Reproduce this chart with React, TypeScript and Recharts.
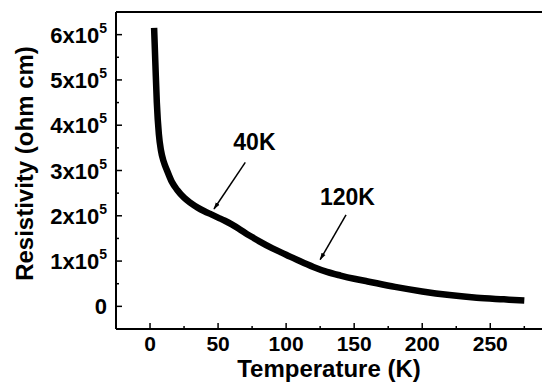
import React from "react";
import { LineChart, Line, XAxis, YAxis, ReferenceLine, ReferenceDot } from "recharts";

// temperature (K) and resistivity (ohm cm)
const temperature = [3, 4, 5, 6.5, 8, 10, 12.5, 16, 20, 25, 30, 35, 40, 45, 50, 55, 60, 65, 70, 75, 80, 90, 100, 110, 120, 130, 140, 150, 160, 180, 200, 220, 240, 260, 275];
const resistivity = [
  615000, 530000, 450000, 380000, 345000, 320000, 300000, 275000, 257000, 240000, 228000, 218000, 210000, 203000, 196000,
  189000, 181000, 172000, 162000, 153000, 144000, 128000, 114000, 100000, 87000, 76000, 68000, 61000, 55000, 43000, 33000,
  25000, 19000, 15500, 13000,
];

const xTicks = [-25, 0, 25, 50, 75, 100, 125, 150, 175, 200, 225, 250, 275];
const yTicks = [0, 50000, 100000, 150000, 200000, 250000, 300000, 350000, 400000, 450000, 500000, 550000, 600000];

// annotation labels and arrows (data coordinates)
const annotationLabels = ["40K", "120K"];
const labelT = [76.7, 145];
const labelR = [363000, 242000];
const arrowFromT = [70, 144];
const arrowFromR = [318000, 202000];
const arrowToT = [47, 125];
const arrowToR = [215000, 103000];

const FONT = "'Liberation Sans', Arial, sans-serif";

const data = temperature.map((t, i) => ({ t, r: resistivity[i] }));

const XTick = (props: any) => {
  const { x, y, payload } = props;
  const v = payload.value;
  const major = v % 50 === 0;
  return (
    <g>
      <line x1={x} x2={x} y1={y} y2={y - (major ? 6 : 3)} stroke="#000" strokeWidth={1.5} />
      {major && (
        <text x={x} y={y + 22} textAnchor="middle" fontFamily={FONT} fontWeight="bold" fontSize={21} fill="#000">
          {v}
        </text>
      )}
    </g>
  );
};

const YTick = (props: any) => {
  const { x, y, payload } = props;
  const v = payload.value;
  const major = v % 100000 === 0;
  return (
    <g>
      <line x1={x} x2={x + (major ? 6 : 3)} y1={y} y2={y} stroke="#000" strokeWidth={1.5} />
      {major && (
        <text x={x - 9} y={y + 8} textAnchor="end" fontFamily={FONT} fontWeight="bold" fontSize={22} fill="#000">
          {v === 0 ? (
            "0"
          ) : (
            <>
              {v / 100000}x10
              <tspan dy={-10} fontSize={14}>5</tspan>
            </>
          )}
        </text>
      )}
    </g>
  );
};

export default function App() {
  return (
    <div style={{ position: "absolute", left: 0, top: 0, width: 542, height: 385, background: "#fff", overflow: "hidden" }}>
      <LineChart width={542} height={385} data={data} margin={{ top: 12, right: 0, bottom: 0, left: 0 }}>
        <defs>
          <marker id="arrowHead" viewBox="0 0 10 10" refX="9" refY="5" markerWidth="5" markerHeight="5" orient="auto">
            <path d="M0,2 L10,5 L0,8 z" fill="#000" />
          </marker>
        </defs>
        <XAxis
          dataKey="t"
          type="number"
          domain={[-25, 288]}
          allowDataOverflow
          ticks={xTicks}
          interval={0}
          height={56}
          tickSize={0}
          tickMargin={0}
          tickLine={false}
          axisLine={{ stroke: "#000", strokeWidth: 2 }}
          tick={<XTick />}
          label={{
            content: (p: any) => (
              <text
                x={p.viewBox.x + p.viewBox.width / 2}
                y={p.viewBox.y + 48}
                textAnchor="middle"
                fontFamily={FONT}
                fontWeight="bold"
                fontSize={24}
                fill="#000"
              >
                Temperature (K)
              </text>
            ),
          }}
        />
        <YAxis
          type="number"
          domain={[-50000, 650000]}
          allowDataOverflow
          ticks={yTicks}
          interval={0}
          width={116}
          tickSize={0}
          tickMargin={0}
          tickLine={false}
          axisLine={{ stroke: "#000", strokeWidth: 2 }}
          tick={<YTick />}
          label={{
            content: (p: any) => {
              const cx = p.viewBox.x + 33;
              const cy = p.viewBox.y + p.viewBox.height / 2 - 7;
              return (
                <text
                  x={cx}
                  y={cy}
                  transform={`rotate(-90, ${cx}, ${cy})`}
                  textAnchor="middle"
                  fontFamily={FONT}
                  fontWeight="bold"
                  fontSize={24}
                  fill="#000"
                >
                  Resistivity (ohm cm)
                </text>
              );
            },
          }}
        />
        <ReferenceLine y={650000} stroke="#000" strokeWidth={2} />
        <Line
          type="monotone"
          dataKey="r"
          stroke="#000"
          strokeWidth={6.5}
          dot={false}
          isAnimationActive={false}
        />
        {annotationLabels.map((lbl, i) => (
          <ReferenceLine
            key={"a" + i}
            segment={[
              { x: arrowFromT[i], y: arrowFromR[i] },
              { x: arrowToT[i], y: arrowToR[i] },
            ]}
            shape={(p: any) => (
              <line x1={p.x1} y1={p.y1} x2={p.x2} y2={p.y2} stroke="#000" strokeWidth={1.5} markerEnd="url(#arrowHead)" />
            )}
          />
        ))}
        {annotationLabels.map((lbl, i) => (
          <ReferenceDot
            key={"l" + i}
            x={labelT[i]}
            y={labelR[i]}
            r={1}
            fill="none"
            stroke="none"
            label={{
              content: (p: any) => (
                <text
                  x={p.viewBox.x + p.viewBox.width / 2}
                  y={p.viewBox.y + p.viewBox.height / 2 + 8}
                  textAnchor="middle"
                  fontFamily={FONT}
                  fontWeight="bold"
                  fontSize={23}
                  fill="#000"
                >
                  {lbl}
                </text>
              ),
            }}
          />
        ))}
      </LineChart>
    </div>
  );
}
